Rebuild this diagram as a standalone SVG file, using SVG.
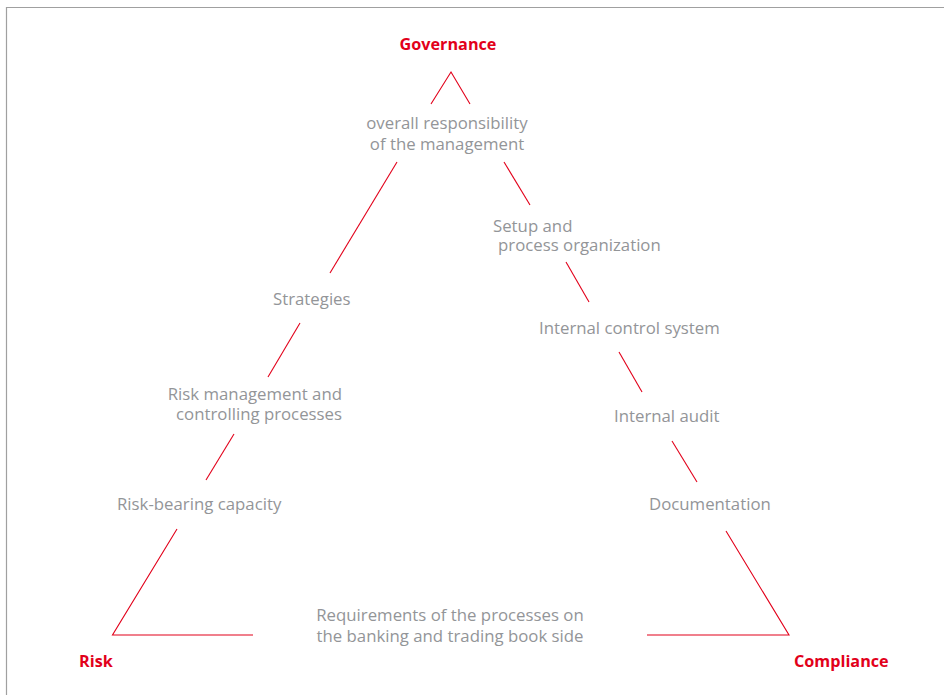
<svg xmlns="http://www.w3.org/2000/svg" width="944" height="695" viewBox="0 0 944 695">
<style>
.t{font-family:"Open Sans","Noto Sans","Liberation Sans",sans-serif;font-size:16.8px;fill:#939598}
.h{font-family:"Open Sans","Noto Sans","Liberation Sans",sans-serif;font-size:16.2px;font-weight:bold;fill:#e2001a}
.c line,.c polyline{stroke:#e2001a;stroke-width:1.1;fill:none}
</style>
<rect x="0" y="0" width="944" height="695" fill="#fff"/>
<path d="M6.5 695 V7.5 H944" fill="none" stroke="#a0a0a0" stroke-width="1.2"/>
<g class="c" id="connectors">
<polyline points="431,104 451,72 470,104"/>
<line x1="397" y1="162" x2="330" y2="273"/>
<line x1="504" y1="162" x2="530" y2="205"/>
<line x1="566" y1="262" x2="589" y2="302"/>
<line x1="300" y1="323" x2="268" y2="377"/>
<line x1="234" y1="434" x2="206" y2="480"/>
<polyline points="177,529 112.5,635 253,635"/>
<line x1="619" y1="352" x2="642" y2="392"/>
<line x1="672" y1="441" x2="697" y2="482"/>
<polyline points="726,531 789,635 647,635"/>
</g>
<g id="governance"><text class="h" x="448" y="49.5" text-anchor="middle">Governance</text></g>
<g id="risk"><text class="h" x="79" y="666.5">Risk</text></g>
<g id="compliance"><text class="h" x="794" y="666.5">Compliance</text></g>
<g id="overall"><text class="t" text-anchor="middle"><tspan x="447" y="129">overall responsibility</tspan><tspan x="447" y="150">of the management</tspan></text></g>
<g id="setup"><text class="t"><tspan x="493" y="231.5">Setup and</tspan><tspan x="498" y="250.5">process organization</tspan></text></g>
<g id="strategies"><text class="t" x="273" y="305">Strategies</text></g>
<g id="riskmgmt"><text class="t" text-anchor="end"><tspan x="342" y="400">Risk management and</tspan><tspan x="342" y="420">controlling processes</tspan></text></g>
<g id="riskbearing"><text class="t" x="117" y="510">Risk-bearing capacity</text></g>
<g id="ics"><text class="t" x="539" y="334">Internal control system</text></g>
<g id="audit"><text class="t" x="614" y="422">Internal audit</text></g>
<g id="documentation"><text class="t" x="649" y="510">Documentation</text></g>
<g id="requirements"><text class="t" text-anchor="middle"><tspan x="450" y="621">Requirements of the processes on</tspan><tspan x="450" y="642">the banking and trading book side</tspan></text></g>
</svg>
